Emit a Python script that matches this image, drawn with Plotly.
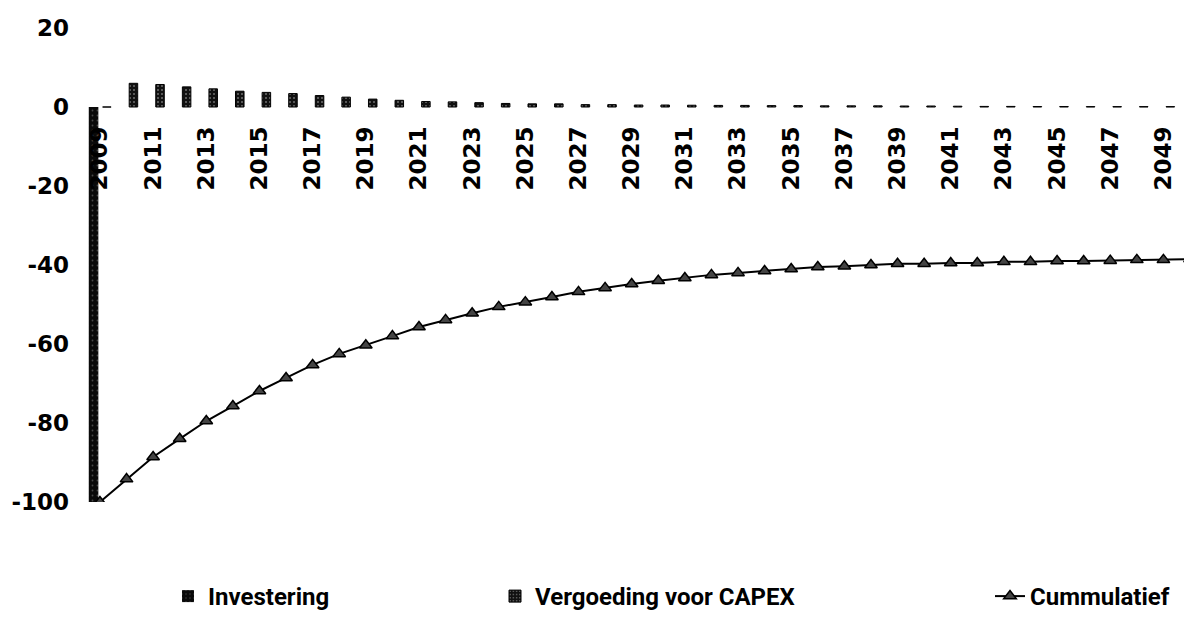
import plotly.graph_objects as go

years = list(range(2009, 2051))

investering = [-100] + [0] * 41

vergoeding = [0, 6.0, 5.7, 5.1, 4.6, 4.0, 3.7, 3.4, 2.9, 2.5, 2.0,
              1.7, 1.4, 1.3, 1.1, 0.9, 0.8, 0.8, 0.6, 0.6, 0.5,
              0.5, 0.45, 0.4, 0.4, 0.35, 0.35, 0.3, 0.3, 0.3, 0.25,
              0.25, 0.2, 0.15, 0.15, 0.12, 0.12, 0.1, 0.1, 0.1, 0.1, 0.1]

cummulatief = [-100, -94.2, -88.6, -84.0, -79.5, -75.7, -71.9, -68.6, -65.3, -62.5,
               -60.3, -58.0, -55.7, -53.9, -52.2, -50.6, -49.4, -48.1, -46.8, -45.8,
               -44.8, -44.0, -43.3, -42.5, -42.0, -41.5, -41.0, -40.5, -40.3, -40.0,
               -39.7, -39.7, -39.5, -39.5, -39.2, -39.2, -39.0, -39.0, -38.9, -38.7,
               -38.7, -38.5]

x_tick_years = years[::2]
x_tick_text = [str(y) for y in x_tick_years]
y_tick_vals = [20, 0, -20, -40, -60, -80, -100]
y_tick_text = ["20", "0", "-20", "-40", "-60", "-80", "-100"]

tick_font = dict(family="DejaVu Sans", size=23, color="#000000", weight="bold")
legend_font = dict(family="Roboto", size=24, color="#000000", weight="bold")

fig = go.Figure()

fig.add_trace(go.Bar(
    x=years, y=investering, name="Investering",
    offset=-0.42, width=0.36,
    marker=dict(color="#0a0a0a", line=dict(width=0),
                pattern=dict(shape=".", fgcolor="#888888", size=5, solidity=0.1)),
    legend="legend",
))

fig.add_trace(go.Bar(
    x=years, y=vergoeding, name="Vergoeding voor CAPEX",
    offset=0.1, width=0.32,
    marker=dict(color="#111111", line=dict(width=1, color="#000000"),
                pattern=dict(shape=".", fgcolor="#cccccc", size=4, solidity=0.2)),
    legend="legend2",
))

fig.add_trace(go.Scatter(
    x=years, y=cummulatief, name="Cummulatief",
    mode="lines+markers",
    line=dict(color="#000000", width=2),
    marker=dict(symbol="triangle-up", size=11, color="#444444",
                line=dict(color="#000000", width=1.5)),
    legend="legend3",
))

# the page body adds an 8px offset; compensate so the plot lands where intended
page_offset = 8
plot_left = 80
plot_width = 1192 - plot_left

def px_to_paper_x(px):
    return (px - plot_left) / plot_width

legend_y = -0.2

fig.update_layout(
    width=1192 - page_offset, height=619 - page_offset,
    margin=dict(l=plot_left - page_offset, r=0, t=28 - page_offset, b=116),
    paper_bgcolor="white", plot_bgcolor="white",
    barmode="overlay",
    showlegend=True,
    xaxis=dict(
        range=[2008.25, 2050.075],
        tickmode="array", tickvals=x_tick_years, ticktext=x_tick_text,
        tickangle=-90, tickfont=tick_font,
        showgrid=False, zeroline=False, showline=False, ticks="",
        anchor="free", position=100 / 120, ticklabelstandoff=14,
        automargin=False,
    ),
    yaxis=dict(
        range=[-100, 20],
        tickmode="array", tickvals=y_tick_vals, ticktext=y_tick_text,
        tickfont=tick_font,
        showgrid=False, zeroline=False, showline=False, ticks="",
        ticklabelstandoff=10, automargin=False,
    ),
    legend=dict(x=px_to_paper_x(168), y=legend_y, xanchor="left", yanchor="middle",
                orientation="h", font=legend_font, bgcolor="rgba(0,0,0,0)"),
    legend2=dict(x=px_to_paper_x(495), y=legend_y, xanchor="left", yanchor="middle",
                 orientation="h", font=legend_font, bgcolor="rgba(0,0,0,0)"),
    legend3=dict(x=px_to_paper_x(990), y=legend_y, xanchor="left", yanchor="middle",
                 orientation="h", font=legend_font, bgcolor="rgba(0,0,0,0)"),
)

fig.write_html("out.html")
